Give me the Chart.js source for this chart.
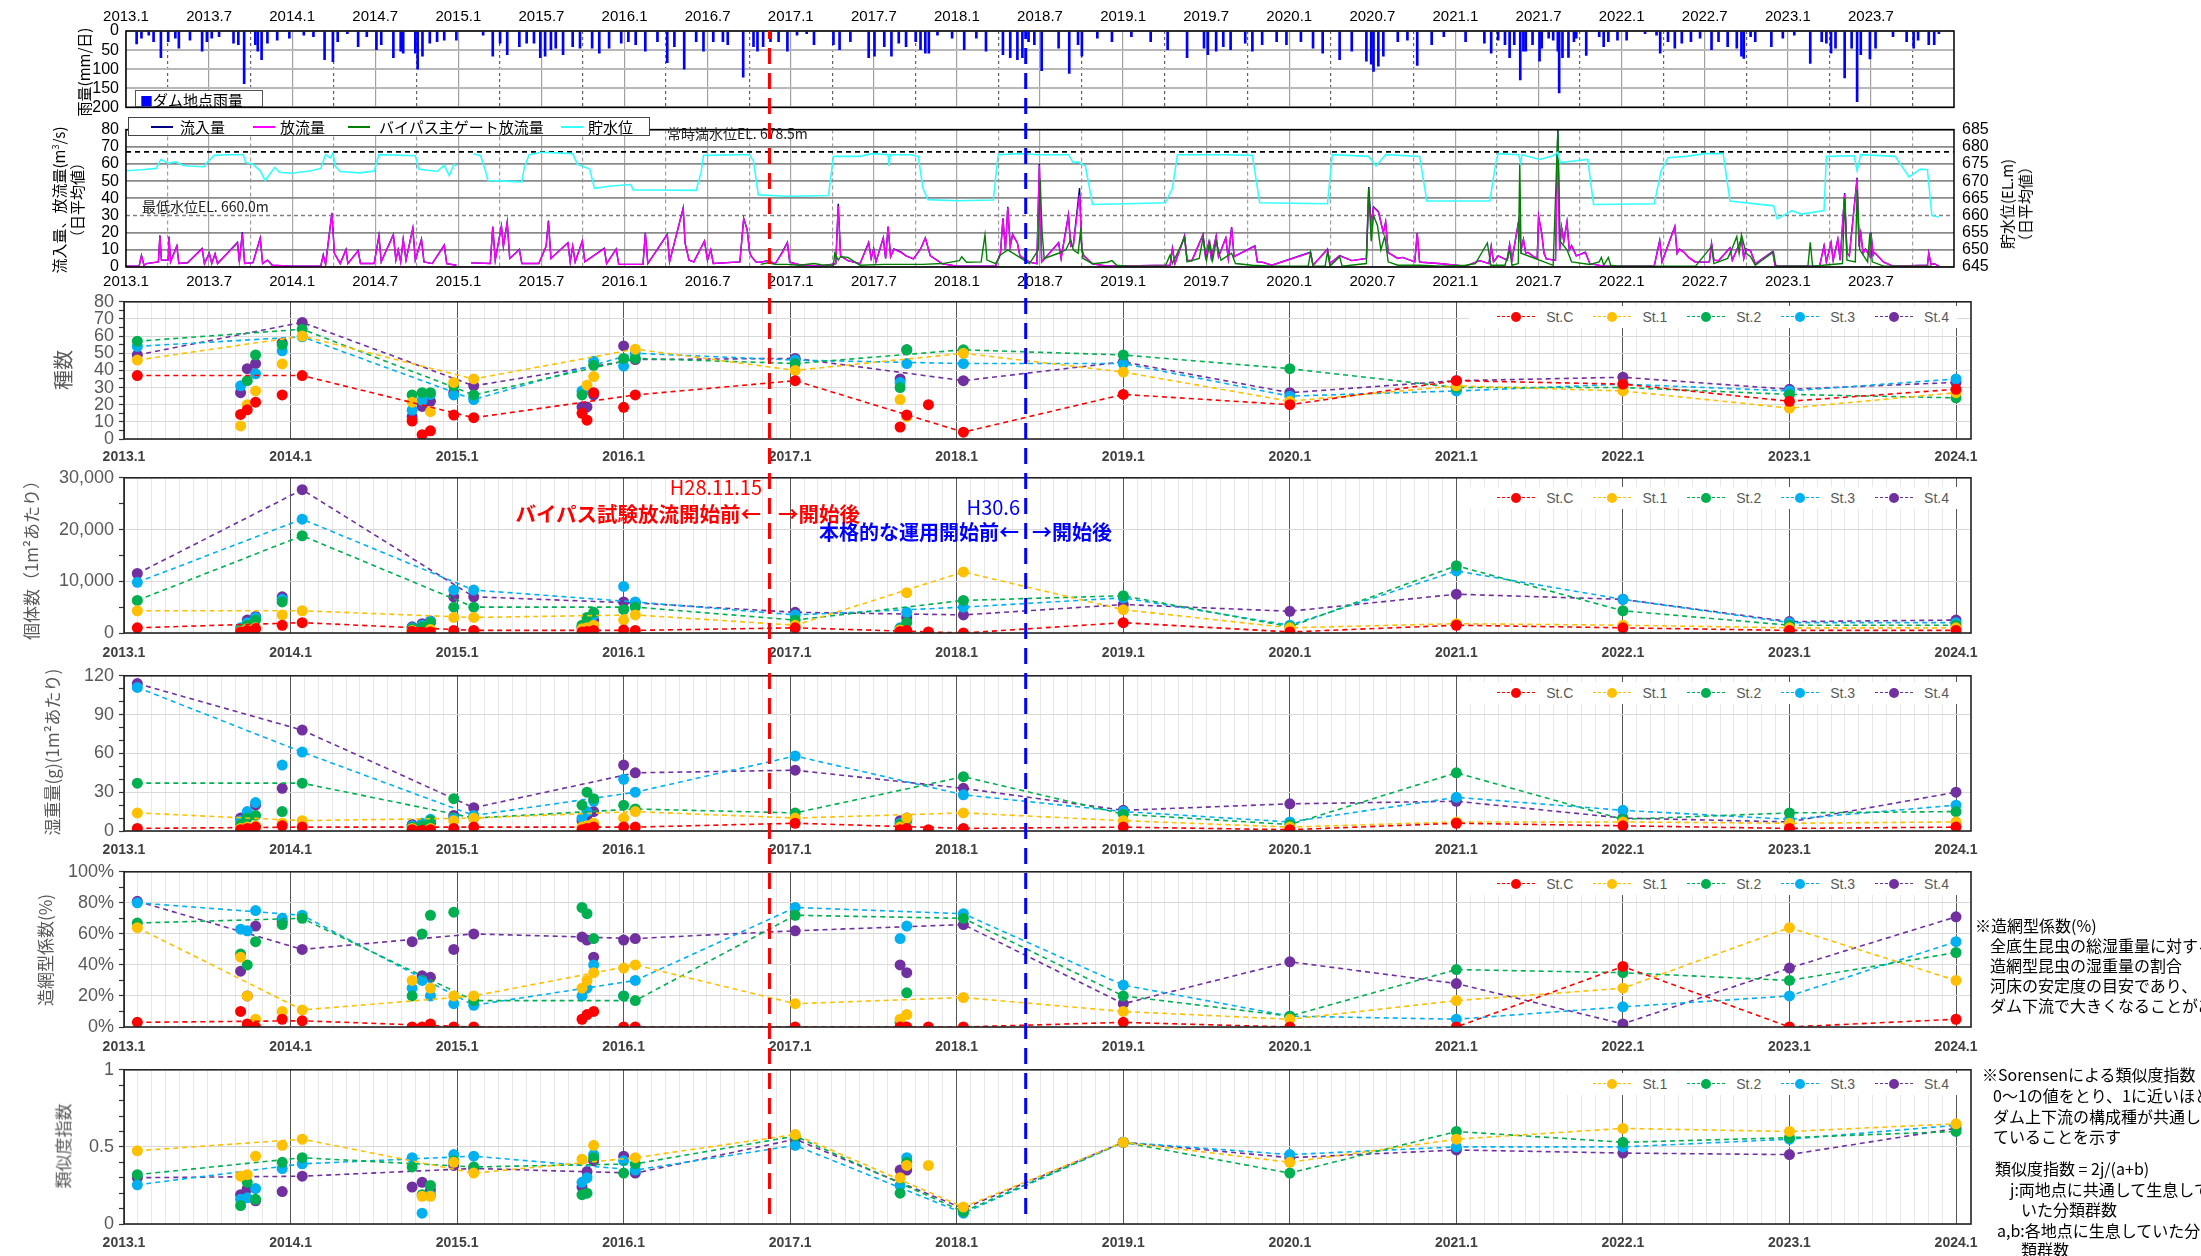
<!DOCTYPE html>
<html lang="ja"><head><meta charset="utf-8"><title>ダム下流 底生動物</title>
<script src="https://cdn.jsdelivr.net/npm/chart.js@4.4.1/dist/chart.umd.min.js"></script>
<style>
html,body{margin:0;padding:0;background:#fff;}
body{width:2201px;height:1256px;overflow:hidden;position:relative;font-family:"Noto Sans CJK JP","Noto Sans",sans-serif;}
canvas{position:absolute;left:0;}
.t{position:absolute;white-space:nowrap;line-height:1;z-index:6;}
.vt{position:absolute;white-space:nowrap;line-height:1.2;transform:translate(-50%,-50%) rotate(-90deg);text-align:center;z-index:6;}
.lg{position:absolute;background:#fff;height:22px;display:flex;align-items:center;font-family:"Liberation Sans Narrow","Liberation Sans",sans-serif;font-size:14px;color:#595959;z-index:4;padding:0 8px;}
.lg .it{display:flex;align-items:center;margin-left:20px}
.ic{position:relative;width:38px;height:10px;margin-right:11px}
.ic i{position:absolute;left:0;right:0;top:4px;border-top:1.5px dashed}
.ic b{position:absolute;left:14px;top:0;width:10px;height:10px;border-radius:50%}
.fl{position:absolute;left:128px;top:117px;width:520px;height:17px;border:1px solid #444;background:#fff;z-index:4;font-size:15px;}
.fl span{position:absolute;top:0;line-height:17px;}
.fl i{position:absolute;top:8px;height:0;border-top:2px solid;width:22px;}
</style></head><body>
<script>
// ===================== DATA =====================
const upperTickLabels = ['2013.1','2013.7','2014.1','2014.7','2015.1','2015.7','2016.1','2016.7','2017.1','2017.7','2018.1','2018.7','2019.1','2019.7','2020.1','2020.7','2021.1','2021.7','2022.1','2022.7','2023.1','2023.7'];
const lowerTickLabels = ['2013.1','2014.1','2015.1','2016.1','2017.1','2018.1','2019.1','2020.1','2021.1','2022.1','2023.1','2024.1'];

// daily rainfall at dam site [decimal year, mm/day]
const rainfall = [[2013.064,34],[2013.093,19],[2013.137,11],[2013.166,28],[2013.210,70],[2013.254,28],[2013.297,19],[2013.318,45],[2013.385,24],[2013.458,53],[2013.487,28],[2013.516,19],[2013.560,15],[2013.647,32],[2013.676,36],[2013.711,138],[2013.778,36],[2013.793,53],[2013.816,75],[2013.851,32],[2013.910,24],[2013.983,19],
[2014.070,11],[2014.128,15],[2014.195,75],[2014.245,80],[2014.274,28],[2014.332,7],[2014.397,41],[2014.449,15],[2014.507,49],[2014.536,36],[2014.609,70],[2014.653,53],[2014.668,58],[2014.741,58],[2014.755,100],[2014.784,66],[2014.828,32],[2014.872,28],[2014.915,24],[2014.988,24],
[2015.149,11],[2015.207,66],[2015.251,32],[2015.294,62],[2015.367,41],[2015.411,32],[2015.455,32],[2015.493,70],[2015.522,66],[2015.557,49],[2015.586,45],[2015.630,62],[2015.688,41],[2015.732,45],[2015.805,45],[2015.848,58],[2015.907,45],[2015.980,32],
[2016.023,28],[2016.067,36],[2016.125,53],[2016.198,28],[2016.257,83],[2016.300,41],[2016.359,100],[2016.431,28],[2016.475,53],[2016.534,28],[2016.592,28],[2016.621,36],[2016.714,121],[2016.776,41],[2016.800,53],[2016.834,41],[2016.878,28],[2016.927,28],[2016.980,53],
[2017.038,11],[2017.096,7],[2017.140,36],[2017.257,36],[2017.294,49],[2017.359,28],[2017.469,70],[2017.504,66],[2017.563,41],[2017.606,66],[2017.650,32],[2017.694,41],[2017.752,28],[2017.781,49],[2017.810,58],[2017.831,58],[2017.883,11],[2017.971,19],
[2018.044,49],[2018.117,19],[2018.175,53],[2018.277,62],[2018.321,70],[2018.364,75],[2018.394,70],[2018.431,28],[2018.466,36],[2018.510,104],[2018.612,45],[2018.676,111],[2018.729,36],[2018.752,66],[2018.845,19],[2018.933,28],
[2019.050,15],[2019.166,28],[2019.268,49],[2019.385,70],[2019.487,45],[2019.510,62],[2019.560,53],[2019.603,41],[2019.647,49],[2019.735,32],[2019.778,53],[2019.837,36],[2019.924,28],[2019.983,36],
[2020.070,28],[2020.143,45],[2020.201,58],[2020.303,75],[2020.376,53],[2020.464,79],[2020.493,87],[2020.507,106],[2020.536,92],[2020.566,66],[2020.653,28],[2020.711,24],[2020.770,90],[2020.857,36],[2020.930,15],
[2021.061,28],[2021.174,32],[2021.215,58],[2021.257,24],[2021.298,36],[2021.326,70],[2021.354,36],[2021.390,128],[2021.409,53],[2021.423,53],[2021.464,36],[2021.506,79],[2021.519,45],[2021.561,19],[2021.588,24],[2021.616,53],[2021.624,162],[2021.644,70],[2021.680,69],[2021.713,28],[2021.727,19],[2021.787,64],[2021.865,15],[2021.892,41],[2021.920,28],[2021.975,24],
[2022.030,24],[2022.141,7],[2022.210,11],[2022.232,58],[2022.279,28],[2022.320,45],[2022.362,32],[2022.417,28],[2022.472,19],[2022.541,49],[2022.583,28],[2022.638,41],[2022.693,45],[2022.721,66],[2022.735,72],[2022.776,15],[2022.804,28],[2022.901,41],[2022.970,19],
[2023.039,11],[2023.135,85],[2023.204,28],[2023.232,32],[2023.260,58],[2023.287,45],[2023.342,123],[2023.384,45],[2023.417,185],[2023.439,62],[2023.494,73],[2023.528,45],[2023.633,15],[2023.715,28],[2023.757,45],[2023.784,24],[2023.848,36],[2023.881,36],[2023.909,7]];

// daily mean outflow (m3/s)
const outflow = [[2013.000,0.5],[2013.079,0.5],[2013.093,6.5],[2013.108,1],[2013.122,2],[2013.195,3],[2013.204,18],[2013.213,4],[2013.254,4],[2013.259,17.5],[2013.268,3],[2013.306,12],[2013.318,2],[2013.370,2.5],[2013.458,10.5],[2013.472,2],[2013.501,8],[2013.516,2],[2013.536,7.5],[2013.551,2],[2013.671,14],[2013.682,3],[2013.700,19.5],[2013.714,2],[2013.764,2.5],[2013.808,16.5],[2013.822,2],[2013.851,4],[2013.880,1],[2013.997,0.5],[2014.172,0.5],[2014.187,6.5],[2014.201,1.5],[2014.239,31.4],[2014.254,8],[2014.289,2],[2014.324,10],[2014.335,2],[2014.397,9.3],[2014.411,2],[2014.493,2],[2014.522,17.8],[2014.536,3],[2014.609,18.7],[2014.624,4],[2014.638,10],[2014.653,3],[2014.668,16],[2014.685,4],[2014.726,22.4],[2014.741,4],[2014.778,15.9],[2014.793,3],[2014.843,2],[2014.915,12.5],[2014.930,2],[2014.988,1],[2015.03,null],[2015.076,2.4],[2015.192,2],[2015.207,23.4],[2015.222,4],[2015.259,23.7],[2015.271,12],[2015.294,26],[2015.309,5],[2015.367,10],[2015.382,2],[2015.484,2],[2015.528,12],[2015.542,26.5],[2015.557,5],[2015.659,14],[2015.673,3],[2015.688,12],[2015.703,3],[2015.746,15],[2015.761,3],[2015.878,10.7],[2015.892,2],[2015.950,10.3],[2015.965,1.5],[2016.111,1.5],[2016.125,19.6],[2016.140,2],[2016.257,18.7],[2016.271,3],[2016.353,34.2],[2016.364,14],[2016.388,4],[2016.417,3],[2016.481,15],[2016.499,4],[2016.519,10],[2016.534,2],[2016.694,3],[2016.717,28],[2016.738,21.5],[2016.752,9],[2016.761,6.5],[2016.790,3],[2016.819,2.8],[2016.863,3.7],[2016.907,1.9],[2016.950,8.4],[2016.980,14],[2016.994,2.8],[2017.052,1.3],[2017.184,0.5],[2017.271,1.9],[2017.286,35.5],[2017.300,6.5],[2017.344,3.7],[2017.417,1.9],[2017.469,14],[2017.484,5],[2017.499,10.3],[2017.513,3],[2017.557,16.8],[2017.571,5],[2017.586,23.4],[2017.601,6],[2017.621,10.3],[2017.665,8.4],[2017.694,6.5],[2017.738,4.7],[2017.781,10.3],[2017.810,16.8],[2017.840,6.5],[2017.913,1.9],[2018.000,0.5],[2018.233,0.5],[2018.262,8],[2018.277,28],[2018.292,10],[2018.306,34.6],[2018.321,12],[2018.335,18.7],[2018.364,14],[2018.379,6.5],[2018.437,2.8],[2018.481,2],[2018.496,59.3],[2018.510,3],[2018.612,14],[2018.627,5],[2018.671,30],[2018.685,12],[2018.700,12.1],[2018.738,42],[2018.752,10],[2018.764,6.5],[2018.816,1.9],[2018.904,0.5],[2019.283,1],[2019.297,10.3],[2019.312,2],[2019.370,17.8],[2019.385,4],[2019.414,3.7],[2019.481,18.7],[2019.496,6],[2019.516,14],[2019.531,5],[2019.560,17.8],[2019.574,6],[2019.618,16.8],[2019.633,5],[2019.653,23],[2019.668,6],[2019.676,6.5],[2019.793,12],[2019.808,3],[2019.837,2.8],[2019.895,1],[2020.128,8.4],[2020.143,1],[2020.230,10.3],[2020.245,2],[2020.303,6.5],[2020.376,3.7],[2020.464,5],[2020.478,40],[2020.493,25],[2020.507,34.6],[2020.536,32],[2020.566,20],[2020.580,26],[2020.595,8.4],[2020.653,5],[2020.682,5.6],[2020.755,3],[2020.770,19.6],[2020.784,3],[2020.799,2.8],[2020.915,1.9],[2021.061,0.5],[2021.146,3.7],[2021.202,2],[2021.215,11.8],[2021.229,3],[2021.257,6.5],[2021.312,4],[2021.326,13],[2021.340,4],[2021.381,27],[2021.395,10],[2021.409,16],[2021.423,8],[2021.436,8.4],[2021.464,6.5],[2021.492,5],[2021.500,29.3],[2021.519,19.6],[2021.533,8],[2021.547,4.7],[2021.602,4],[2021.616,72],[2021.627,10],[2021.638,23],[2021.652,15],[2021.671,26],[2021.685,10],[2021.699,12.3],[2021.727,6.5],[2021.782,8.4],[2021.809,1.9],[2021.892,0.5],[2022.196,0.5],[2022.229,15],[2022.243,3],[2022.320,23.4],[2022.334,8],[2022.348,10.3],[2022.376,8.4],[2022.403,5.6],[2022.445,2.8],[2022.528,3],[2022.541,13.6],[2022.555,4],[2022.583,3.7],[2022.652,11],[2022.666,4],[2022.721,16],[2022.735,5],[2022.749,10.3],[2022.776,9.3],[2022.804,1.9],[2022.909,8.8],[2022.923,1],[2022.942,0.5],[2023.191,0.5],[2023.218,12],[2023.232,3],[2023.260,14],[2023.273,4],[2023.301,16],[2023.315,4],[2023.342,42.4],[2023.356,8],[2023.370,6.5],[2023.417,51.4],[2023.428,12],[2023.439,19.6],[2023.453,8],[2023.467,10.3],[2023.494,6],[2023.500,19.6],[2023.514,7],[2023.522,8.4],[2023.577,2.8],[2023.633,0.5],[2023.840,1],[2023.848,7.9],[2023.862,1.5],[2023.881,1.9],[2023.909,0.5]];

// daily mean inflow (m3/s) — nearly coincident with outflow, visible at peak tops
const inflow = [[2013.000,0.5],[2013.079,0.5],[2013.093,6.8],[2013.108,1],[2013.122,2],[2013.195,3],[2013.204,18.5],[2013.213,4],[2013.254,4],[2013.259,17.8],[2013.268,3],[2013.306,12.3],[2013.318,2],[2013.370,2.5],[2013.458,10.8],[2013.472,2],[2013.501,8.2],[2013.516,2],[2013.536,7.7],[2013.551,2],[2013.671,14.4],[2013.682,3],[2013.700,20.2],[2013.714,2],[2013.764,2.5],[2013.808,17],[2013.822,2],[2013.851,4],[2013.880,1],[2013.997,0.5],[2014.172,0.5],[2014.187,7.2],[2014.201,1.5],[2014.239,31.6],[2014.254,8],[2014.289,2],[2014.324,10.2],[2014.335,2],[2014.397,9.5],[2014.411,2],[2014.493,2],[2014.522,18.2],[2014.536,3],[2014.609,18.9],[2014.624,4],[2014.638,10],[2014.653,3],[2014.668,16.2],[2014.685,4],[2014.726,22.6],[2014.741,4],[2014.778,16.2],[2014.793,3],[2014.843,2],[2014.915,12.8],[2014.930,2],[2014.988,1],[2015.03,null],[2015.076,2.4],[2015.192,2],[2015.207,23.6],[2015.222,4],[2015.259,24],[2015.271,12],[2015.294,26.3],[2015.309,5],[2015.367,10.2],[2015.382,2],[2015.484,2],[2015.528,12],[2015.542,27],[2015.557,5],[2015.659,14.2],[2015.673,3],[2015.688,12.2],[2015.703,3],[2015.746,15.2],[2015.761,3],[2015.878,10.9],[2015.892,2],[2015.950,10.5],[2015.965,1.5],[2016.111,1.5],[2016.125,19.9],[2016.140,2],[2016.257,19],[2016.271,3],[2016.353,34.5],[2016.364,14],[2016.388,4],[2016.417,3],[2016.481,15.2],[2016.499,4],[2016.519,10],[2016.534,2],[2016.694,3],[2016.717,28.3],[2016.738,21.8],[2016.752,9],[2016.761,6.5],[2016.790,3],[2016.819,2.8],[2016.863,3.7],[2016.907,1.9],[2016.950,8.8],[2016.980,14.3],[2016.994,2.8],[2017.052,1.3],[2017.184,0.5],[2017.271,1.9],[2017.286,36.8],[2017.300,6.5],[2017.344,3.7],[2017.417,1.9],[2017.469,14.3],[2017.484,5],[2017.499,10.5],[2017.513,3],[2017.557,17],[2017.571,5],[2017.586,23.6],[2017.601,6],[2017.621,10.5],[2017.665,8.6],[2017.694,6.5],[2017.738,4.7],[2017.781,10.5],[2017.810,17],[2017.840,6.5],[2017.913,1.9],[2018.000,0.5],[2018.233,0.5],[2018.262,8],[2018.277,28.4],[2018.292,10],[2018.306,35],[2018.321,12],[2018.335,19],[2018.364,14],[2018.379,6.5],[2018.437,2.8],[2018.481,2],[2018.496,60],[2018.510,3],[2018.612,14.2],[2018.627,5],[2018.671,30.5],[2018.685,12],[2018.700,12.3],[2018.738,46],[2018.752,10],[2018.764,6.5],[2018.816,1.9],[2018.904,0.5],[2019.283,1],[2019.297,11],[2019.312,2],[2019.370,18.2],[2019.385,4],[2019.414,3.7],[2019.481,19],[2019.496,6],[2019.516,14.4],[2019.531,5],[2019.560,18],[2019.574,6],[2019.618,17],[2019.633,5],[2019.653,23.3],[2019.668,6],[2019.676,6.5],[2019.793,12.3],[2019.808,3],[2019.837,2.8],[2019.895,1],[2020.128,8.6],[2020.143,1],[2020.230,10.5],[2020.245,2],[2020.303,6.7],[2020.376,3.7],[2020.464,5],[2020.478,46.5],[2020.493,25],[2020.507,35],[2020.536,32.4],[2020.566,20],[2020.580,26.3],[2020.595,8.4],[2020.653,5],[2020.682,5.6],[2020.755,3],[2020.770,19.8],[2020.784,3],[2020.799,2.8],[2020.915,1.9],[2021.061,0.5],[2021.146,3.7],[2021.202,2],[2021.215,12],[2021.229,3],[2021.257,6.5],[2021.312,4],[2021.326,13.2],[2021.340,4],[2021.381,27.2],[2021.395,10],[2021.409,16.2],[2021.423,8],[2021.436,8.6],[2021.464,6.5],[2021.492,5],[2021.500,29.6],[2021.519,19.8],[2021.533,8],[2021.547,4.7],[2021.602,4],[2021.616,80.5],[2021.627,10],[2021.638,23.3],[2021.652,15],[2021.671,26.3],[2021.685,10],[2021.699,12.5],[2021.727,6.5],[2021.782,8.6],[2021.809,1.9],[2021.892,0.5],[2022.196,0.5],[2022.229,15.5],[2022.243,3],[2022.320,23.6],[2022.334,8],[2022.348,10.5],[2022.376,8.6],[2022.403,5.6],[2022.445,2.8],[2022.528,3],[2022.541,13.8],[2022.555,4],[2022.583,3.7],[2022.652,11.2],[2022.666,4],[2022.721,16.2],[2022.735,5],[2022.749,10.5],[2022.776,9.5],[2022.804,1.9],[2022.909,9],[2022.923,1],[2022.942,0.5],[2023.191,0.5],[2023.218,12.4],[2023.232,3],[2023.260,14.2],[2023.273,4],[2023.301,16.2],[2023.315,4],[2023.342,43],[2023.356,8],[2023.370,6.5],[2023.417,52],[2023.428,12],[2023.439,19.8],[2023.453,8],[2023.467,10.5],[2023.494,6],[2023.500,20],[2023.514,7],[2023.522,8.4],[2023.577,2.8],[2023.633,0.5],[2023.840,1],[2023.848,8.1],[2023.862,1.5],[2023.881,1.9],[2023.909,0.5]];

// bypass main gate discharge (m3/s)
const bypassFlow = [[2016.819,1.5],[2016.863,2.5],[2016.907,1.5],[2016.980,1.5],[2017.052,1],[2017.140,2],[2017.184,1.3],[2017.257,1],[2017.265,8],[2017.286,4],[2017.300,6],[2017.344,5.6],[2017.417,1],[2017.563,1.5],[2017.796,1.5],[2017.913,2],[2018.015,3.7],[2018.029,6],[2018.058,2.8],[2018.146,3],[2018.169,18.7],[2018.181,4],[2018.233,2],[2018.262,7],[2018.306,10],[2018.437,2],[2018.490,10],[2018.501,51],[2018.513,20],[2018.525,5],[2018.612,8],[2018.656,10],[2018.685,16],[2018.700,10],[2018.729,8],[2018.743,20],[2018.758,5],[2018.816,1.9],[2018.904,2.8],[2018.933,3.7],[2018.962,1],[2019.020,0.5],[2019.254,0.5],[2019.283,7],[2019.297,2],[2019.370,17],[2019.385,3],[2019.458,5],[2019.481,17],[2019.502,4],[2019.522,14.4],[2019.539,4],[2019.560,15],[2019.589,4],[2019.653,8],[2019.676,2],[2019.778,1],[2019.895,0.5],[2020.114,0.5],[2020.128,8.4],[2020.143,0.5],[2020.216,0.5],[2020.230,9],[2020.245,0.5],[2020.303,6],[2020.318,0.5],[2020.464,2],[2020.478,45.8],[2020.493,15],[2020.507,30],[2020.531,24],[2020.551,10],[2020.575,18],[2020.595,3],[2020.653,1],[2020.784,1],[2020.915,0.5],[2021.061,1],[2021.120,2],[2021.192,14],[2021.213,1],[2021.229,1],[2021.298,1],[2021.326,10],[2021.340,1],[2021.378,2],[2021.387,59.8],[2021.395,8],[2021.588,1],[2021.616,79.4],[2021.630,15],[2021.671,10],[2021.699,3],[2021.809,1.5],[2021.865,3],[2021.878,5.6],[2021.892,1],[2021.920,5.6],[2021.934,1],[2021.975,0.5],[2022.196,0.5],[2022.445,0.5],[2022.541,12],[2022.555,2],[2022.638,5],[2022.666,11],[2022.693,17.8],[2022.707,8],[2022.721,18.7],[2022.749,8],[2022.776,6],[2022.804,1],[2022.914,8.8],[2022.928,0.5],[2023.121,0.5],[2023.135,14.4],[2023.149,0.5],[2023.329,2],[2023.342,40],[2023.356,4],[2023.406,3],[2023.417,45],[2023.433,10],[2023.480,3],[2023.494,19.6],[2023.508,3],[2023.577,0.5],[2023.867,0.5]];

// reservoir water level (EL.m)
const waterLevel = [[2013.000,673.0],[2013.093,673.3],[2013.181,673.7],[2013.210,676.3],[2013.254,675.2],[2013.297,675.6],[2013.341,674.6],[2013.370,674.4],[2013.472,674.2],[2013.487,675.4],[2013.531,677.5],[2013.618,677.7],[2013.706,677.7],[2013.720,675.4],[2013.764,674.9],[2013.808,673.0],[2013.837,670.2],[2013.866,672.1],[2013.895,674.0],[2013.924,672.6],[2013.997,672.3],[2014.114,673.0],[2014.172,673.7],[2014.201,677.7],[2014.230,676.8],[2014.245,678.2],[2014.259,674.4],[2014.289,672.8],[2014.405,672.4],[2014.493,672.9],[2014.522,677.7],[2014.741,677.4],[2014.761,673.5],[2014.872,672.8],[2014.915,674.6],[2014.945,671.6],[2014.974,674.9],[2014.988,674.4],[2015.03,null],[2015.090,678.0],[2015.134,677.4],[2015.163,673.0],[2015.178,670.2],[2015.280,670.0],[2015.382,669.8],[2015.397,674.0],[2015.426,677.7],[2015.499,678.4],[2015.688,678.0],[2015.717,674.9],[2015.790,673.5],[2015.819,667.9],[2015.921,668.6],[2016.038,669.0],[2016.052,667.4],[2016.184,667.4],[2016.431,667.3],[2016.461,672.6],[2016.475,677.5],[2016.708,677.7],[2016.752,677.7],[2016.776,675.8],[2016.805,666.0],[2016.980,665.6],[2017.227,665.8],[2017.257,677.2],[2017.417,677.2],[2017.490,678.0],[2017.586,677.7],[2017.592,674.4],[2017.598,677.7],[2017.723,677.7],[2017.767,677.2],[2017.796,667.9],[2017.825,664.6],[2018.000,664.3],[2018.219,664.5],[2018.248,677.7],[2018.379,678.0],[2018.496,677.7],[2018.671,677.7],[2018.700,675.4],[2018.729,675.6],[2018.773,674.4],[2018.816,663.2],[2019.020,663.4],[2019.254,663.7],[2019.297,667.9],[2019.327,677.7],[2019.603,677.7],[2019.778,677.5],[2019.822,663.7],[2020.230,663.4],[2020.259,677.7],[2020.478,677.2],[2020.522,674.4],[2020.580,677.7],[2020.784,677.2],[2020.828,664.2],[2021.207,664.2],[2021.243,675.4],[2021.257,678.0],[2021.381,677.7],[2021.390,675.4],[2021.401,677.7],[2021.506,676.3],[2021.588,677.4],[2021.616,678.4],[2021.630,675.4],[2021.699,675.8],[2021.796,676.3],[2021.831,663.2],[2022.196,663.4],[2022.238,673.0],[2022.279,676.8],[2022.390,677.2],[2022.500,678.0],[2022.611,678.0],[2022.652,664.2],[2022.914,662.8],[2022.936,659.0],[2023.025,661.4],[2023.080,660.4],[2023.218,661.4],[2023.232,677.2],[2023.398,677.4],[2023.417,673.0],[2023.439,677.7],[2023.646,677.2],[2023.729,671.2],[2023.798,673.5],[2023.840,673.3],[2023.867,660.0],[2023.909,659.5]];

const normalHighLevel = 678.5;   // 常時満水位
const minimumLevel = 660.0;      // 最低水位
const bypassTestStart = 2016.872;     // H28.11.15
const fullOperationStart = 2018.414;  // H30.6

// benthic survey
const stations = ['St.C','St.1','St.2','St.3','St.4'];
const surveyDates = [2013.08,2014.07,2015.10,2016.07,2017.03,2018.04,2019.00,2020.00,2021.00,2022.00,2023.00,2024.00];
const extraDates = [2013.70,2013.74,2013.79,2013.95,2014.73,2014.79,2014.84,2014.98,2015.75,2015.78,2015.82,2016.00,2017.66,2017.70,2017.83];

// 種数 (St.C, St.1, St.2, St.3, St.4)
const speciesLine = [
 [37,37,12.4,25.7,34,4,26,20,34,32,22,29],
 [46,60,35,52.4,40,50,39,22,31,28,18,27],
 [57,64,25.7,47,44,52,49,41,30,30,26,24],
 [54,59.6,23,50,46,44,44,25,28,32,28,35],
 [49,68,31,46.3,47,34,45,27,34,36,29,33]];
const speciesExtra = [
 [14.3,7.6,null,31,27],[17,20,34,null,41],[21.5,28,49,38,44],[25.7,43.8,55,51.4,56],
 [10.5,21.5,25.7,16.8,13],[2.5,null,27,22.5,19],[4.8,16,27,26,22],[14,33,31,25.7,27],
 [15,null,25.7,28,18.7],[11,31.4,null,28.8,18.7],[27,36.4,43,45.3,25.7],[18.5,null,47,42.5,54.3],
 [7,23,30,33,35],[14,13,52,44,52],[20,null,null,null,null]];

// 個体数 (per m2)
const densityLine = [
 [1000,2000,500,500,1000,0,2000,200,1500,1000,500,500],
 [4300,4300,3000,3500,1500,11800,4500,1000,1800,1500,1000,1000],
 [6300,18800,5000,5000,2500,6300,7200,1200,13000,4300,1500,1500],
 [9800,22000,8300,6000,3500,5000,6800,1500,12000,6500,2000,2000],
 [11500,27700,7000,5800,4000,3500,5500,4200,7500,6500,2200,2500]];
const densityExtra = [
 [200,300,500,1000,800],[500,800,1500,2000,2500],[800,1000,2500,3000,3200],[1500,3500,6000,6500,7000],
 [300,500,800,1000,1200],[100,null,1200,1500,1800],[200,700,2000,2200,2300],[500,3000,5000,8300,7000],
 [200,800,1500,1200,1000],[300,1000,3000,2000,1500],[500,1500,4000,3500,2500],[600,2500,4500,9000,6000],
 [300,600,800,1000,700],[500,7800,2000,4000,3000],[200,null,null,null,null]];

// 湿重量 (g per m2)
const biomassLine = [
 [2,3,3,3,6,2,3,1,6,4,2,3],
 [14,8,10,15,10,14,8,3,7,7,6,7],
 [37,37,10,17,14,42,13,5,45,9,14,15],
 [111,61,12,30,58,28,15,7,26,16,9,20],
 [114,78,18,45,47,33,16,21,23,10,7,30]];
const biomassExtra = [
 [1,2,5,8,10],[2,3,10,15,12],[3,4,12,22,20],[4,6,15,51,33],
 [1,2,3,4,5],[0.5,null,4,6,5],[1,2,8,9,6],[2,8,25,10,12],
 [1,3,20,10,8],[2,4,30,15,12],[3,6,25,23,15],[3,10,20,40,51],
 [1,3,5,6,8],[2,10,8,9,10],[1,null,null,null,null]];

// 造網型係数 (%)
const netSpinnerLine = [
 [3,4,0,0,0,0,3,0,0,39,0,5],
 [64,11,20,40,15,19,10,5,17,25,64,30],
 [67,70,17,17,72,70,20,7,37,35,30,48],
 [80,72,14,30,77,73,27,7,5,13,20,55],
 [81,50,60,57,62,66,15,42,28,2,38,71]];
const netSpinnerExtra = [
 [10,45,47,63,36],[2,20,40,62,20],[0,5,55,75,65],[5,10,66,70,68],
 [0,30,20,25,55],[0,null,60,30,33],[2,25,72,20,32],[0,20,74,15,50],
 [5,25,77,20,58],[8,30,73,25,56],[10,35,57,40,45],[0,38,20,20,56],
 [0,5,3,57,40],[0,8,22,65,35],[0,null,null,null,null]];

// 類似度指数 (St.1 - St.4)
const similarityLine = [
 [0.475,0.55,0.33,0.43,0.58,0.11,0.53,0.40,0.55,0.62,0.60,0.65],
 [0.32,0.43,0.37,0.39,0.57,0.08,0.53,0.33,0.60,0.53,0.56,0.60],
 [0.254,0.39,0.44,0.35,0.51,0.07,0.53,0.45,0.50,0.50,0.55,0.64],
 [0.30,0.31,0.36,0.33,0.55,0.10,0.53,0.43,0.48,0.46,0.45,0.62]];
const similarityExtra = [
 [0.31,0.12,0.16,0.19],[0.32,0.27,0.17,0.23],[0.44,0.16,0.23,0.15],[0.51,0.40,0.36,0.21],
 [null,0.37,0.43,0.24],[0.18,0.19,0.07,0.27],[0.18,0.25,0.19,0.22],[0.40,0.41,0.45,0.38],
 [0.42,0.19,0.27,0.24],[null,0.20,0.30,0.34],[0.51,0.43,0.45,0.41],[null,0.33,0.41,0.44],
 [0.30,0.20,0.25,0.35],[0.38,0.40,0.43,0.35],[0.38,null,null,null]];

// ===================== STYLE =====================
const W = 2201;
const stationColors = ['#ff0000','#ffc000','#00b050','#00b0f0','#7030a0'];
const narrow = '"Liberation Sans Narrow","Liberation Sans",sans-serif';
Chart.defaults.animation = false;
Chart.defaults.responsive = false;
Chart.defaults.events = [];
Chart.defaults.plugins.legend.display = false;
Chart.defaults.plugins.tooltip.enabled = false;

const labelToYear = s => { const p = s.split('.').map(Number); return p[0] + (p[1]-1)/12; };
const upperMajor = upperTickLabels.map(labelToYear);
const upperGrid = []; upperMajor.forEach(v => { upperGrid.push(v); upperGrid.push(v + 0.25); });
const lowerMajor = lowerTickLabels.map(labelToYear);
const lowerGrid = []; lowerMajor.forEach((v,i) => { if (i < lowerMajor.length-1) { for (let m=0;m<12;m++) lowerGrid.push(v + m/12); } else lowerGrid.push(v); });
const pairs = a => a.map(p => ({x:p[0], y:p[1]}));
const near = (a, b) => Math.abs(a - b) < 1e-6;
const isMult = (v, m) => near(v / m, Math.round(v / m));

const framePlugin = { id:'frame', afterDraw(chart, args, opts) {
  const a = chart.chartArea, c = chart.ctx; c.save(); c.strokeStyle = opts.color || '#000'; c.lineWidth = opts.width || 1.5;
  c.strokeRect(a.left, a.top, a.right - a.left, a.bottom - a.top); c.restore(); } };

function mkCanvas(top, height, z) {
  const c = document.createElement('canvas'); c.width = W; c.height = height;
  c.style.top = top + 'px'; c.style.width = W + 'px'; c.style.height = height + 'px';
  if (z) c.style.zIndex = z; document.body.appendChild(c); return c;
}

// ---------- Panel 1: rainfall ----------
(function(){
  const T = 0, H = 124, top = 31, bottom = 111, left = 126, right = 1954;
  new Chart(mkCanvas(T, H), {
    type: 'bar',
    data: { datasets: [{ data: pairs(rainfall), backgroundColor: '#0000ff', barThickness: 2, grouped: false }] },
    options: {
      layout: { padding: { left: 0, right: W - right, top: 0, bottom: T + H - bottom } },
      scales: {
        x: { type: 'linear', position: 'top', min: 2013, max: 2024, offset: false,
          afterBuildTicks: s => { s.ticks = upperGrid.map(v => ({value: v})); },
          ticks: { autoSkip: false, maxRotation: 0, minRotation: 0, padding: 5, color: '#000', font: { family: narrow, size: 15 },
            callback: (v, i) => i % 2 === 0 ? upperTickLabels[i/2] : '' },
          grid: { offset: false, drawTicks: false, lineWidth: 1.2, color: c => c.index % 2 === 0 ? '#a0a0a0' : '#606060' },
          border: { display: false, dash: c => c.index % 2 === 0 ? [] : [3, 3] },
          afterFit: s => { s.height = top - T; } },
        y: { min: 0, max: 200, reverse: true,
          ticks: { stepSize: 50, autoSkip: false, padding: 7, color: '#000', font: { family: narrow, size: 16 } },
          grid: { drawTicks: false, color: '#b8b8b8', lineWidth: 2 },
          border: { display: false },
          afterFit: s => { s.width = left; } }
      },
      plugins: { frame: { width: 1.5 } }
    },
    plugins: [framePlugin]
  });
})();

// ---------- Panel 2: flows & water level ----------
(function(){
  const T = 112, H = 190, top = 125, bottom = 267, left = 126, right = 1954;
  const line = (data, color, w, order, axis) => ({ data: pairs(data), borderColor: color, borderWidth: w, pointRadius: 0, spanGaps: false, order, yAxisID: axis || 'y', tension: 0 });
  new Chart(mkCanvas(T, H), {
    type: 'line',
    data: { datasets: [
      line(inflow, '#000080', 1.4, 4),
      line(outflow, '#ff00ff', 1.4, 3),
      line(bypassFlow, '#008000', 1.4, 2),
      line(waterLevel, '#33ffff', 1.6, 1, 'y2'),
      { data: [{x:2013,y:normalHighLevel},{x:2024,y:normalHighLevel}], yAxisID: 'y2', borderColor: '#000', borderWidth: 1.8, borderDash: [5,4], pointRadius: 0, order: 5 },
      { data: [{x:2013,y:minimumLevel},{x:2024,y:minimumLevel}], yAxisID: 'y2', borderColor: '#808080', borderWidth: 1.4, borderDash: [4,3], pointRadius: 0, order: 6 }
    ] },
    options: {
      layout: { padding: { left: 0, right: 0, top: top - T, bottom: 0 } },
      scales: {
        x: { type: 'linear', position: 'bottom', min: 2013, max: 2024,
          afterBuildTicks: s => { s.ticks = upperGrid.map(v => ({value: v})); },
          ticks: { autoSkip: false, maxRotation: 0, minRotation: 0, padding: 6, color: '#000', font: { family: narrow, size: 15 },
            callback: (v, i) => i % 2 === 0 ? upperTickLabels[i/2] : '' },
          grid: { drawTicks: false, lineWidth: 1.2, color: c => c.index % 2 === 0 ? '#a8a8a8' : '#a0a0a0' },
          border: { display: false, dash: c => c.index % 2 === 0 ? [] : [4, 3] },
          afterFit: s => { s.height = T + H - bottom; } },
        y: { min: 0, max: 80, position: 'left',
          ticks: { stepSize: 10, autoSkip: false, padding: 7, color: '#000', font: { family: narrow, size: 16 } },
          grid: { drawTicks: false, lineWidth: 1.8, color: c => c.tick && c.tick.value === 30 ? 'rgba(0,0,0,0)' : '#8a8a8a' },
          border: { display: false },
          afterFit: s => { s.width = left; } },
        y2: { min: 645, max: 685, position: 'right',
          ticks: { stepSize: 5, autoSkip: false, padding: 8, color: '#000', font: { family: narrow, size: 16 } },
          grid: { display: false, drawTicks: false },
          border: { display: false },
          afterFit: s => { s.width = W - right; } }
      },
      plugins: { frame: { width: 1.5 } }
    },
    plugins: [framePlugin]
  });
})();

// ---------- Lower panels ----------
const lowerMax = 2024.09;
function lowerPanel(p) {
  const left = 124, right = 1971;
  const datasets = [];
  p.line.forEach((row, k) => {
    const s = p.first + k, col = stationColors[s];
    datasets.push({ data: surveyDates.map((d, i) => ({x: d, y: row[i]})).filter(q => q.y !== null), showLine: true,
      borderColor: col, borderWidth: 1.6, borderDash: [5, 4], pointRadius: 5.5, pointBackgroundColor: col, pointBorderWidth: 0 });
    const ex = []; extraDates.forEach((d, i) => { const v = p.extra[i][k]; if (v !== null) ex.push({x: d, y: v}); });
    datasets.push({ data: ex, showLine: false, pointRadius: 5.5, pointBackgroundColor: col, pointBorderColor: col, pointBorderWidth: 0 });
  });
  new Chart(mkCanvas(p.T, p.H), {
    type: 'scatter',
    data: { datasets },
    options: {
      layout: { padding: { left: 0, right: W - right, top: p.top - p.T, bottom: 0 } },
      scales: {
        x: { type: 'linear', position: 'bottom', min: 2013, max: lowerMax,
          afterBuildTicks: s => { s.ticks = lowerGrid.map(v => ({value: v})); },
          ticks: { autoSkip: false, maxRotation: 0, minRotation: 0, padding: p.xpad, color: '#404040', font: { family: narrow, size: 14, weight: 'bold' },
            callback: (v, i) => i % 12 === 0 ? lowerTickLabels[i/12] : '' },
          grid: { drawTicks: false, lineWidth: 1, color: c => c.index % 12 === 0 ? '#555555' : '#e8e8e8' },
          border: { display: false },
          afterFit: s => { s.height = p.T + p.H - p.bottom; } },
        y: { min: 0, max: p.max,
          ticks: { stepSize: p.minor, autoSkip: false, padding: 5, color: '#595959', font: { family: narrow, size: 18 },
            callback: v => isMult(v, p.step) ? p.fmt(v) : '' },
          grid: { drawTicks: true, tickLength: 5, tickColor: '#333', tickWidth: 1.2, lineWidth: 1,
            color: c => (c.tick && isMult(c.tick.value, p.step)) ? '#d9d9d9' : 'rgba(0,0,0,0)' },
          border: { display: false },
          afterFit: s => { s.width = left; } }
      },
      plugins: { frame: { width: 1.6, color: '#222' } }
    },
    plugins: [framePlugin]
  });
}
lowerPanel({ T: 286, H: 180, top: 299, bottom: 439, xpad: 10, max: 80, step: 10, minor: 5, fmt: v => v, line: speciesLine, extra: speciesExtra, first: 0 });
lowerPanel({ T: 462, H: 198, top: 476, bottom: 633, xpad: 12, max: 30000, step: 10000, minor: 5000, fmt: v => v.toLocaleString('en-US'), line: densityLine, extra: densityExtra, first: 0 });
lowerPanel({ T: 660, H: 198, top: 674, bottom: 831, xpad: 11, max: 120, step: 30, minor: 10, fmt: v => v, line: biomassLine, extra: biomassExtra, first: 0 });
lowerPanel({ T: 856, H: 198, top: 869, bottom: 1027, xpad: 12, max: 100, step: 20, minor: 10, fmt: v => v + '%', line: netSpinnerLine, extra: netSpinnerExtra, first: 0 });
lowerPanel({ T: 1054, H: 202, top: 1067, bottom: 1224, xpad: 11, max: 1, step: 0.5, minor: 0.1, fmt: v => v, line: similarityLine, extra: similarityExtra, first: 1 });

// ---------- Overlay: operation change lines ----------
new Chart(mkCanvas(0, 1256, 5), {
  type: 'line',
  data: { datasets: [
    { data: [{x: bypassTestStart, y: 0}, {x: bypassTestStart, y: 1}], borderColor: '#ff0000', borderWidth: 3, borderDash: [16, 9], pointRadius: 0 },
    { data: [{x: fullOperationStart, y: 0}, {x: fullOperationStart, y: 1}], borderColor: '#0000ff', borderWidth: 3, borderDash: [16, 9], pointRadius: 0 }
  ] },
  options: {
    layout: { padding: { left: 126, right: W - 1954, top: 31, bottom: 1256 - 1214 } },
    scales: { x: { type: 'linear', min: 2013, max: 2024, display: false }, y: { min: 0, max: 1, display: false } }
  }
});

// ===================== TEXT =====================
function txt(html, style, cls) { const d = document.createElement('div'); d.className = cls || 't'; d.innerHTML = html; Object.assign(d.style, style); document.body.appendChild(d); return d; }
txt('雨量(mm/日)', { left: '84px', top: '72px', fontSize: '15px', color: '#000' }, 'vt');
txt('流入量、放流量(m<sup style="font-size:9px">3</sup>/s)<br>（日平均値）', { left: '68px', top: '200px', fontSize: '15px', color: '#000' }, 'vt');
txt('貯水位(EL.m)<br>（日平均値）', { left: '2016px', top: '204px', fontSize: '15px', color: '#000' }, 'vt');
txt('種数', { left: '63px', top: '370px', fontSize: '20px', color: '#595959' }, 'vt');
txt('個体数（1m²あたり）', { left: '31px', top: '556px', fontSize: '17px', color: '#595959' }, 'vt');
txt('湿重量(g)(1m²あたり)', { left: '52px', top: '752px', fontSize: '17px', color: '#595959' }, 'vt');
txt('造網型係数(%)', { left: '45px', top: '950px', fontSize: '17px', color: '#595959' }, 'vt');
txt('類似度指数', { left: '63px', top: '1146px', fontSize: '17px', color: '#595959' }, 'vt');

txt('<span style="color:#0000ff;font-size:13px">■</span>ダム地点雨量', { left: '135px', top: '90px', width: '128px', height: '17px', border: '1px solid #555', background: '#fff', fontSize: '15px', lineHeight: '17px', paddingLeft: '4px', boxSizing: 'border-box', zIndex: 4 });
(function(){
  const d = document.createElement('div'); d.className = 'fl'; document.body.appendChild(d);
  const items = [['流入量','#000080',22,51],['放流量','#ff00ff',124,151],['バイパス主ゲート放流量','#008000',219,250],['貯水位','#33ffff',432,459]];
  items.forEach(([name,col,lx,tx]) => { const i = document.createElement('i'); i.style.left = lx+'px'; i.style.borderColor = col; d.appendChild(i);
    const s = document.createElement('span'); s.style.left = tx+'px'; s.textContent = name; d.appendChild(s); });
})();
txt('常時満水位EL. 678.5m', { left: '667px', top: '126px', fontSize: '14px', color: '#222', zIndex: 3 });
txt('最低水位EL. 660.0m', { left: '142px', top: '199px', fontSize: '14px', color: '#222', zIndex: 3 });

function stLegend(centerY, first) {
  const d = document.createElement('div'); d.className = 'lg'; d.style.top = (centerY - 11) + 'px'; d.style.right = (W - 1957) + 'px';
  for (let s = first; s < stations.length; s++) {
    const it = document.createElement('div'); it.className = 'it';
    it.innerHTML = '<span class="ic"><i style="border-color:' + stationColors[s] + '"></i><b style="background:' + stationColors[s] + '"></b></span>' + stations[s];
    d.appendChild(it);
  }
  document.body.appendChild(d);
}
stLegend(317, 0); stLegend(498, 0); stLegend(693, 0); stLegend(884, 0); stLegend(1084, 1);

txt('H28.11.15', { right: (W - 762) + 'px', top: '477px', fontSize: '20px', color: '#ff0000' });
txt('バイパス試験放流開始前←', { right: (W - 761) + 'px', top: '503px', fontSize: '20.5px', color: '#ff0000', fontWeight: 'bold' });
txt('→開始後', { left: '778px', top: '503px', fontSize: '20.5px', color: '#ff0000', fontWeight: 'bold' });
txt('H30.6', { right: (W - 1020) + 'px', top: '497px', fontSize: '20px', color: '#0000ff' });
txt('本格的な運用開始前←', { right: (W - 1019) + 'px', top: '522px', fontSize: '20px', color: '#0000ff', fontWeight: 'bold' });
txt('→開始後', { left: '1032px', top: '522px', fontSize: '20px', color: '#0000ff', fontWeight: 'bold' });

const notes1 = [['※造網型係数(%)',1975],['全底生昆虫の総湿重量に対する',1990],['造網型昆虫の湿重量の割合',1990],['河床の安定度の目安であり、',1990],['ダム下流で大きくなることがある',1990]];
notes1.forEach(([s,x],i) => txt(s, { left: x+'px', top: (917 + i*20) + 'px', fontSize: '16px', color: '#000' }));
const notes2 = [['※Sorensenによる類似度指数',1982,1066],['0〜1の値をとり、1に近いほど',1993,1087],['ダム上下流の構成種が共通し',1993,1108],['ていることを示す',1993,1128],['類似度指数 = 2j/(a+b)',1995,1160],['j:両地点に共通して生息して',2010,1181],['いた分類群数',2021,1201],['a,b:各地点に生息していた分',1997,1222],['類群数',2021,1241]];
notes2.forEach(([s,x,y]) => txt(s, { left: x+'px', top: y+'px', fontSize: '16px', color: '#000' }));
</script>
</body></html>
